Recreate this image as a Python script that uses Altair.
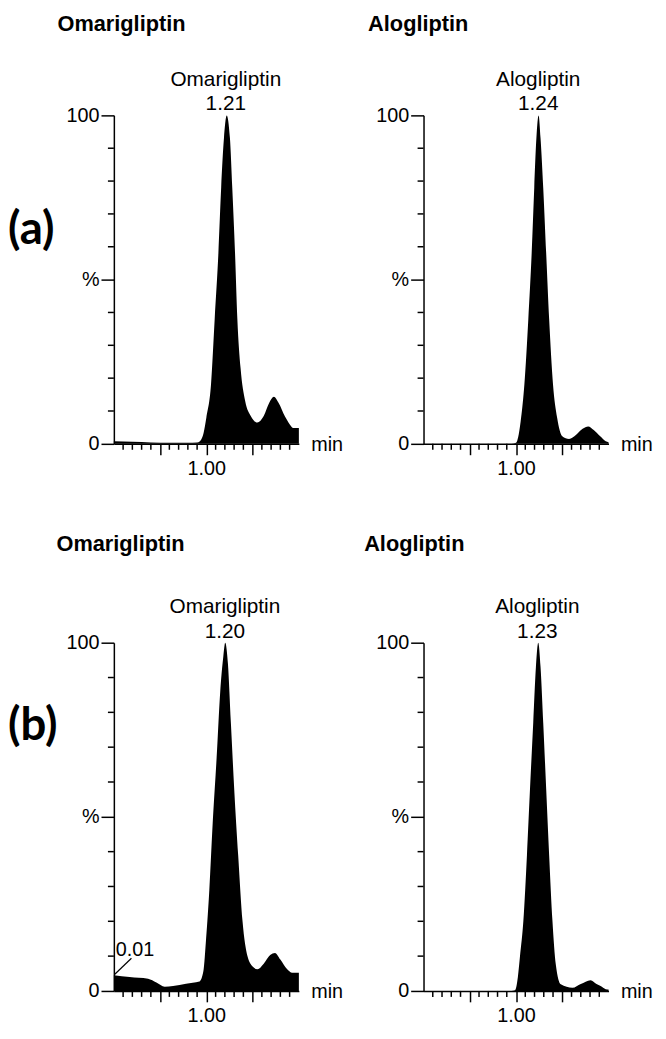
import altair as alt
import pandas as pd

FONT = "Liberation Sans"

# ---- data (time in min, relative intensity %) ----
a_omari_t = [0.00, 0.20, 0.40, 0.60, 0.80, 0.90, 0.93, 0.97, 1.00, 1.05, 1.09, 1.13, 1.16, 1.19, 1.22,
             1.255, 1.28, 1.31, 1.335, 1.37, 1.42, 1.48, 1.55, 1.62, 1.68, 1.73, 1.78, 1.85, 1.90, 1.94, 2.00]
a_omari_v = [0.8, 0.6, 0.4, 0.3, 0.3, 0.4, 0.8, 3.3, 8, 18, 38, 58, 78, 93, 100,
             93, 78, 58, 38, 23, 13, 8.5, 6.5, 8.5, 12.5, 14.3, 12.5, 8.3, 6.0, 4.8, 4.8]

a_alo_t = [0.00, 0.95, 1.00, 1.03, 1.055, 1.09, 1.133, 1.169, 1.197, 1.22, 1.244,
           1.265, 1.294, 1.326, 1.358, 1.40, 1.444, 1.50, 1.573, 1.65, 1.72, 1.78, 1.84, 1.91, 1.97, 2.00]
a_alo_v = [0, 0, 0.3, 3, 8, 18, 38, 58, 78, 93, 100,
           93, 78, 58, 38, 18, 8, 2.3, 1.5, 2.8, 4.6, 5.3, 4.2, 2.3, 0.8, 0.5]

b_omari_t = [0.00, 0.17, 0.37, 0.46, 0.55, 0.64, 0.78, 0.925, 0.968, 0.997, 1.032, 1.068, 1.111, 1.15, 1.183, 1.204,
             1.233, 1.265, 1.301, 1.344, 1.391, 1.444, 1.50, 1.552, 1.62, 1.69, 1.742, 1.80, 1.874, 1.928, 2.00]
b_omari_v = [4.5, 4.0, 3.5, 2.4, 1.2, 1.4, 2.1, 2.7, 5.7, 15, 29, 48, 67, 86, 96, 100,
             94, 77, 58, 39, 20, 10, 7, 6.2, 7.8, 10.3, 10.9, 9, 6.2, 5.2, 5.2]

b_alo_t = [0.00, 0.95, 0.99, 1.02, 1.043, 1.079, 1.118, 1.151, 1.186, 1.215, 1.24,
           1.265, 1.294, 1.326, 1.358, 1.394, 1.43, 1.484, 1.61, 1.70, 1.806, 1.87, 1.914, 1.97, 2.00]
b_alo_v = [0, 0, 0.2, 4, 10, 20, 39, 58, 77, 93, 100,
           93, 77, 58, 39, 20, 7.6, 1.9, 0.9, 2.0, 3.1, 2.0, 1.4, 0.5, 0.4]

compounds = ["Omarigliptin", "Alogliptin", "Omarigliptin", "Alogliptin"]
peak_rt_text = ["1.21", "1.24", "1.20", "1.23"]
peak_rt_val = [1.21, 1.24, 1.20, 1.23]
row_labels = ["(a)", "(b)"]

x_major = [0.5, 1.0, 1.5]
x_minor = [0.1, 0.2, 0.3, 0.4, 0.6, 0.7, 0.8, 0.9, 1.1, 1.2, 1.3, 1.4, 1.6, 1.7, 1.8, 1.9]
y_major = [0, 50, 100]
y_minor = [10, 20, 30, 40, 60, 70, 80, 90]

note_text = ["0.01"]
note_t = [0.02]
note_v = [9.9]
leader_t = [0.01]
leader_v = [4.8]
leader_t2 = [0.19]
leader_v2 = [9.4]

W = 187
XDOM = [0, 2.0]


def panel(t, v, name, rt_text, rt_val, H, title_dx, title_dy, row_label=None, row_dy=0, note=False):
    df = pd.DataFrame({"t": t, "v": v})
    xs = alt.Scale(domain=XDOM, nice=False, zero=False)
    ys = alt.Scale(domain=[0, 100], nice=False)
    xax = alt.Axis(values=x_major, labelExpr="datum.value == 1 ? '1.00' : ''",
                   tickSize=11, tickWidth=1.5, domainWidth=1.5, domainColor="black",
                   tickColor="black", grid=False, labelFontSize=20, labelPadding=4,
                   labelColor="black", labelFont=FONT,
                   title="min", titleX=W + 12, titleY=1, titleAlign="left",
                   titleBaseline="middle", titleAngle=0, titleFontWeight="normal",
                   titleFontSize=20, titleColor="black", titleFont=FONT)
    yax = alt.Axis(values=y_major,
                   labelExpr="datum.value == 50 ? '%' : (datum.value == 100 ? '100' : '0')",
                   tickSize=13, tickWidth=1.5, domainWidth=1.5, domainColor="black",
                   tickColor="black", grid=False, labelFontSize=20, labelPadding=2,
                   labelColor="black", labelFont=FONT, title=None)
    area = alt.Chart(df).mark_area(color="black", interpolate="monotone").encode(
        x=alt.X("t:Q", scale=xs, axis=xax),
        y=alt.Y("v:Q", scale=ys, axis=yax),
    )
    xm = alt.Chart(pd.DataFrame({"t": x_minor})).mark_rule(color="black", strokeWidth=1.5).encode(
        x="t:Q", y=alt.value(H), y2=alt.value(H + 6))
    ym = alt.Chart(pd.DataFrame({"v": y_minor})).mark_rule(color="black", strokeWidth=1.5).encode(
        y="v:Q", x=alt.value(0), x2=alt.value(-6))
    peak = pd.DataFrame({"t": [rt_val], "v": [100], "name": [name], "rt": [rt_text]})
    name_txt = alt.Chart(peak).mark_text(fontSize=21, dy=-30, baseline="alphabetic",
                                         font=FONT, color="black").encode(
        x="t:Q", y="v:Q", text="name:N")
    rt_txt = alt.Chart(peak).mark_text(fontSize=21, dy=-5, baseline="alphabetic",
                                       font=FONT, color="black").encode(
        x="t:Q", y="v:Q", text="rt:N")
    title_txt = alt.Chart(pd.DataFrame({"label": [name]})).mark_text(
        fontSize=22, fontWeight="bold", align="left", baseline="alphabetic",
        font=FONT, color="black").encode(
        x=alt.value(title_dx), y=alt.value(title_dy), text="label:N")
    layers = [area, xm, ym, name_txt, rt_txt, title_txt]
    if row_label:
        layers.append(alt.Chart(pd.DataFrame({"label": [row_label]})).mark_text(
            fontSize=46, fontWeight="bold", align="left", baseline="alphabetic",
            font="Lato", color="black").encode(
            x=alt.value(-107), y=alt.value(row_dy), text="label:N"))
    if note:
        ndf = pd.DataFrame({"t": note_t, "v": note_v, "label": note_text})
        ldf = pd.DataFrame({"t": leader_t, "v": leader_v, "t2": leader_t2, "v2": leader_v2})
        layers.append(alt.Chart(ndf).mark_text(fontSize=20, align="left", baseline="alphabetic",
                                               font=FONT, color="black").encode(
            x="t:Q", y="v:Q", text="label:N"))
        layers.append(alt.Chart(ldf).mark_rule(color="black", strokeWidth=1.2).encode(
            x="t:Q", y="v:Q", x2="t2:Q", y2="v2:Q"))
    return alt.layer(*layers).properties(width=W, height=H)


tl = panel(a_omari_t, a_omari_v, compounds[0], peak_rt_text[0], peak_rt_val[0], 332, -57, -85,
           row_labels[0], 130)
tr = panel(a_alo_t, a_alo_v, compounds[1], peak_rt_text[1], peak_rt_val[1], 332, -56, -85)
bl = panel(b_omari_t, b_omari_v, compounds[2], peak_rt_text[2], peak_rt_val[2], 352, -58, -93,
           row_labels[1], 98, note=True)
br = panel(b_alo_t, b_alo_v, compounds[3], peak_rt_text[3], peak_rt_val[3], 352, -60, -93)

chart = alt.concat(tl, tr, bl, br, columns=2, spacing={"row": 201, "column": 126},
                   bounds="flush", align="each").properties(
    padding={"left": 0, "top": 0, "right": 5, "bottom": 5},
    background="white",
).configure(font=FONT, view=alt.ViewConfig(stroke=None))

chart.save("out.html", embed_options={"renderer": "svg", "actions": False})
